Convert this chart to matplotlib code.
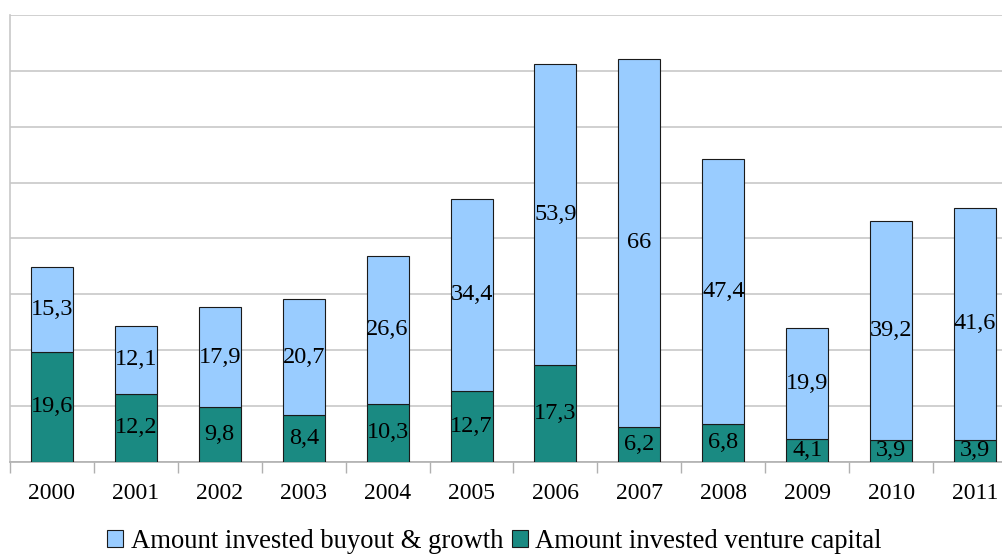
import matplotlib
matplotlib.use("Agg")
import matplotlib.pyplot as plt
import numpy as np

# Data
years = ["2000", "2001", "2002", "2003", "2004", "2005",
         "2006", "2007", "2008", "2009", "2010", "2011"]
venture = [19.6, 12.2, 9.8, 8.4, 10.3, 12.7, 17.3, 6.2, 6.8, 4.1, 3.9, 3.9]
buyout = [15.3, 12.1, 17.9, 20.7, 26.6, 34.4, 53.9, 66, 47.4, 19.9, 39.2, 41.6]

plt.rcParams['font.family'] = ['Liberation Serif', 'DejaVu Serif']

W, H = 1003, 556
fig = plt.figure(figsize=(W / 100, H / 100), dpi=100)
# plot area runs past the right edge of the picture, like the original
ax = fig.add_axes([10 / W, (H - 461.7) / H, (1017 - 10) / W, (461.7 - 15) / H])

x = np.arange(len(years))
teal = '#1a8a82'
light_blue = '#99ccff'
edge = '#1a1a1a'

b1 = ax.bar(x, venture, width=0.5, color=teal, edgecolor=edge, linewidth=0.8,
            label='Amount invested venture capital', zorder=3)
b2 = ax.bar(x, buyout, width=0.5, bottom=venture, color=light_blue, edgecolor=edge,
            linewidth=0.8, label='Amount invested buyout & growth', zorder=3)

def fmt(v):
    return f"{v:g}".replace('.', ',')

for xi, v, b in zip(x, venture, buyout):
    ax.text(xi, v / 2, fmt(v), ha='center', va='center', fontsize=17.5, zorder=4)
    ax.text(xi, v + b / 2, fmt(b), ha='center', va='center', fontsize=17.5, zorder=4)

ax.set_xlim(-0.5, len(years) - 0.5)
ax.set_ylim(0, 80)
ax.set_yticks(np.arange(0, 81, 10))
ax.set_yticklabels([])
ax.tick_params(axis='y', length=0)
ax.grid(axis='y', color='#c8c8c8', linewidth=1.2, zorder=0)

ax.set_xticks(x)
ax.set_xticklabels(years, fontsize=17)
ax.tick_params(axis='x', which='major', length=0, pad=15)
ax.set_xticks(np.arange(-0.5, len(years), 1), minor=True)
ax.tick_params(axis='x', which='minor', length=8, color='#b0b0b0', width=1)

for s in ['top', 'right']:
    ax.spines[s].set_visible(False)
ax.spines['left'].set_color('#c8c8c8')
ax.spines['left'].set_linewidth(1.2)
ax.spines['bottom'].set_color('#b0b0b0')
ax.spines['bottom'].set_linewidth(1.2)

fig.legend(handles=[b2, b1], loc='center', bbox_to_anchor=(0.493, 0.026), ncol=2,
           frameon=False, fontsize=19.2, handlelength=0.6, handleheight=0.6,
           handletextpad=0.28, columnspacing=0.33, borderaxespad=0)

fig.savefig('out.png', dpi=100)
